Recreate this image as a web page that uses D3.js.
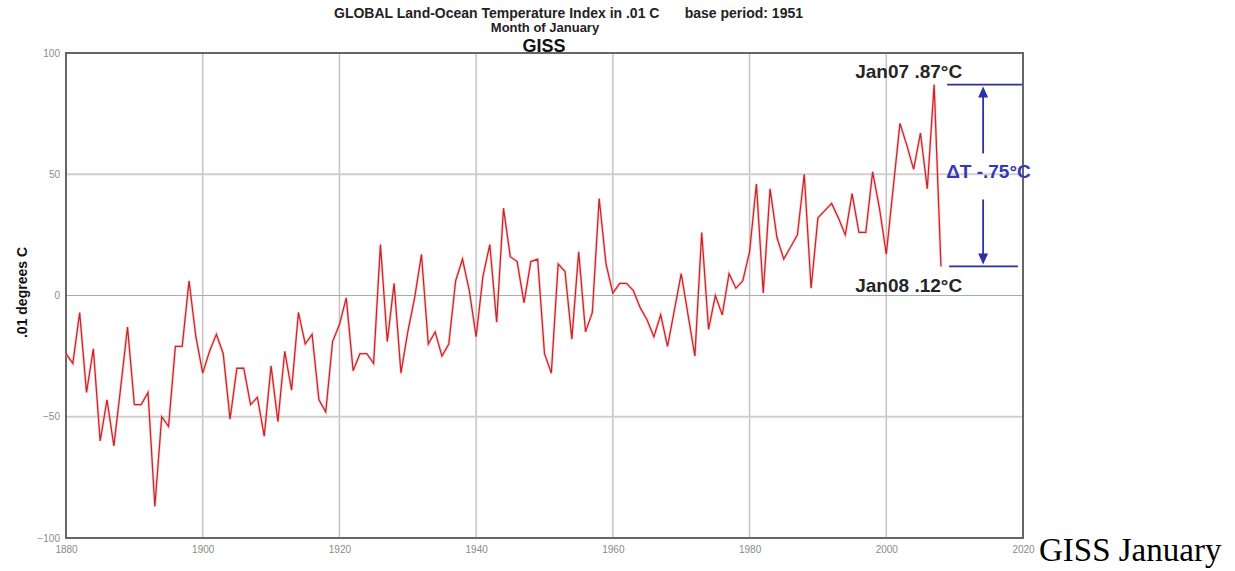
<!DOCTYPE html>
<html>
<head>
<meta charset="utf-8">
<script src="https://cdn.jsdelivr.net/npm/d3@7"></script>
<style>
  html, body { margin: 0; padding: 0; background: #fff; }
  svg { display: block; }
</style>
</head>
<body>
<svg id="chart" width="1235" height="571"></svg>
<script>
// GISS global land-ocean index, January of each year, in .01 degrees C
const firstYear = 1880;
const januaryAnomaly = [
  -24, -28, -7, -40, -22, -60, -43, -62, -38, -13,   // 1880s
  -45, -45, -40, -87, -50, -54, -21, -21, 6, -17,    // 1890s
  -32, -23, -16, -24, -51, -30, -30, -45, -42, -58,  // 1900s
  -29, -52, -23, -39, -7, -20, -16, -43, -48, -19,   // 1910s
  -12, -1, -31, -24, -24, -28, 21, -19, 5, -32,      // 1920s
  -15, -1, 17, -20, -15, -25, -20, 6, 15, 2,         // 1930s
  -17, 8, 21, -11, 36, 16, 14, -3, 14, 15,           // 1940s
  -24, -32, 13, 10, -18, 18, -15, -7, 40, 13,        // 1950s
  1, 5, 5, 2, -5, -10, -17, -8, -21, -6,             // 1960s
  9, -8, -25, 26, -14, 0, -8, 9, 3, 6,               // 1970s
  18, 46, 1, 44, 24, 15, 20, 25, 50, 3,              // 1980s
  32, 35, 38, 32, 25, 42, 26, 26, 51, 36,            // 1990s
  17, 44, 71, 62, 52, 67, 44, 87, 12                 // 2000-2008
];
const yearTicks = [1880, 1900, 1920, 1940, 1960, 1980, 2000, 2020];
const valueTicks = [-100, -50, 0, 50, 100];

// the two Januaries compared in the annotation
const peakYear = 2007, peakValue = 87;
const dropYear = 2008, dropValue = 12;

const series = januaryAnomaly.map((v, i) => ({ year: firstYear + i, value: v }));

const svg = d3.select("#chart");
const plot = { left: 66, right: 1023, top: 53, bottom: 538 };

const x = d3.scaleLinear().domain([1880, 2020]).range([plot.left, plot.right]);
const y = d3.scaleLinear().domain([-100, 100]).range([plot.bottom, plot.top]);

const sans = "Liberation Sans, Arial, Helvetica, sans-serif";

// grid
const grid = svg.append("g");
grid.selectAll("line.v")
  .data(yearTicks.filter(t => t > 1880 && t < 2020))
  .join("line")
  .attr("x1", d => x(d)).attr("x2", d => x(d))
  .attr("y1", plot.top).attr("y2", plot.bottom)
  .attr("stroke", "#c4c4c4").attr("stroke-width", 1.5);
grid.selectAll("line.h")
  .data(valueTicks.filter(t => t > -100 && t < 100))
  .join("line")
  .attr("x1", plot.left).attr("x2", plot.right)
  .attr("y1", d => y(d)).attr("y2", d => y(d))
  .attr("stroke", d => d === 0 ? "#aaaaaa" : "#cfcfcf")
  .attr("stroke-width", d => d === 0 ? 1 : 1.8);

// axis labels
const xAxis = d3.axisBottom(x).tickValues(yearTicks).tickSize(0).tickPadding(8).tickFormat(d3.format("d"));
const gx = svg.append("g").attr("transform", `translate(0,${plot.bottom})`).call(xAxis);
gx.select(".domain").remove();
gx.selectAll("text").attr("fill", "#8a8a8a").style("font-family", sans).style("font-size", "10px");

const yAxis = d3.axisLeft(y).tickValues(valueTicks).tickSize(0).tickPadding(6);
const gy = svg.append("g").attr("transform", `translate(${plot.left},0)`).call(yAxis);
gy.select(".domain").remove();
gy.selectAll("text").attr("fill", "#8a8a8a").style("font-family", sans).style("font-size", "10px");

// frame
svg.append("rect")
  .attr("x", plot.left).attr("y", plot.top)
  .attr("width", plot.right - plot.left).attr("height", plot.bottom - plot.top)
  .attr("fill", "none").attr("stroke", "#666").attr("stroke-width", 2);

// data line
const line = d3.line().x(d => x(d.year)).y(d => y(d.value));
svg.append("path")
  .datum(series)
  .attr("d", line)
  .attr("fill", "none")
  .attr("stroke", "#ffb0b0").attr("stroke-width", 3).attr("opacity", 0.5);
svg.append("path")
  .datum(series)
  .attr("d", line)
  .attr("fill", "none")
  .attr("stroke", "#c8262a").attr("stroke-width", 1.3)
  .attr("stroke-linejoin", "miter");

// titles
svg.append("text").attr("x", 334).attr("y", 18)
  .style("font-family", sans).style("font-weight", "bold").style("font-size", "14px")
  .attr("fill", "#222")
  .text("GLOBAL Land-Ocean Temperature Index in .01 C");
svg.append("text").attr("x", 803).attr("y", 18).attr("text-anchor", "end")
  .style("font-family", sans).style("font-weight", "bold").style("font-size", "14px")
  .attr("fill", "#222")
  .text("base period: 1951");
svg.append("text").attr("x", 545).attr("y", 32).attr("text-anchor", "middle")
  .style("font-family", sans).style("font-weight", "bold").style("font-size", "13px")
  .attr("fill", "#222")
  .text("Month of January");
svg.append("text").attr("x", 544).attr("y", 52).attr("text-anchor", "middle")
  .style("font-family", sans).style("font-weight", "bold").style("font-size", "18px")
  .attr("fill", "#111")
  .text("GISS");

// y axis title
svg.append("text")
  .attr("transform", `translate(27,${y(0) - 3}) rotate(-90)`)
  .attr("text-anchor", "middle")
  .style("font-family", sans).style("font-weight", "bold").style("font-size", "14px")
  .attr("fill", "#111")
  .text(".01 degrees C");

// annotation: drop from January 2007 to January 2008
const blue = "#2b2fa8";
const ann = svg.append("g");
const yTop = y(peakValue), yBot = y(dropValue);
const barX0 = x(peakYear) + 13, barX1 = plot.right - 1;
const arrowX = x(peakYear) + 49;

ann.append("line").attr("x1", barX0).attr("x2", barX1).attr("y1", yTop).attr("y2", yTop)
  .attr("stroke", blue).attr("stroke-width", 1.8);
ann.append("line").attr("x1", barX0 + 2).attr("x2", barX1 - 4).attr("y1", yBot).attr("y2", yBot)
  .attr("stroke", blue).attr("stroke-width", 1.8);

const midY = (yTop + yBot) / 2;
ann.append("line").attr("x1", arrowX).attr("x2", arrowX).attr("y1", yTop + 8).attr("y2", midY - 22)
  .attr("stroke", blue).attr("stroke-width", 1.8);
ann.append("line").attr("x1", arrowX).attr("x2", arrowX).attr("y1", midY + 24).attr("y2", yBot - 8)
  .attr("stroke", blue).attr("stroke-width", 1.8);
ann.append("path")
  .attr("d", `M${arrowX},${yTop + 2} L${arrowX - 5},${yTop + 13} L${arrowX + 5},${yTop + 13} Z`)
  .attr("fill", blue);
ann.append("path")
  .attr("d", `M${arrowX},${yBot - 2} L${arrowX - 5},${yBot - 13} L${arrowX + 5},${yBot - 13} Z`)
  .attr("fill", blue);

ann.append("text").attr("x", barX0 - 1).attr("y", midY + 3)
  .style("font-family", sans).style("font-weight", "bold").style("font-size", "19px")
  .attr("fill", "#3437b8")
  .text("ΔT -.75°C");

ann.append("text").attr("x", x(peakYear) + 28).attr("y", yTop - 7).attr("text-anchor", "end")
  .style("font-family", sans).style("font-weight", "bold").style("font-size", "19px")
  .attr("fill", "#262626")
  .text("Jan07 .87°C");
ann.append("text").attr("x", x(peakYear) + 28).attr("y", yBot + 26).attr("text-anchor", "end")
  .style("font-family", sans).style("font-weight", "bold").style("font-size", "19px")
  .attr("fill", "#262626")
  .text("Jan08 .12°C");

// caption to the right of the chart
svg.append("text").attr("x", 1039).attr("y", 561)
  .style("font-family", "Liberation Serif, Times New Roman, serif").style("font-size", "33px")
  .attr("fill", "#000")
  .text("GISS January");
</script>
</body>
</html>
